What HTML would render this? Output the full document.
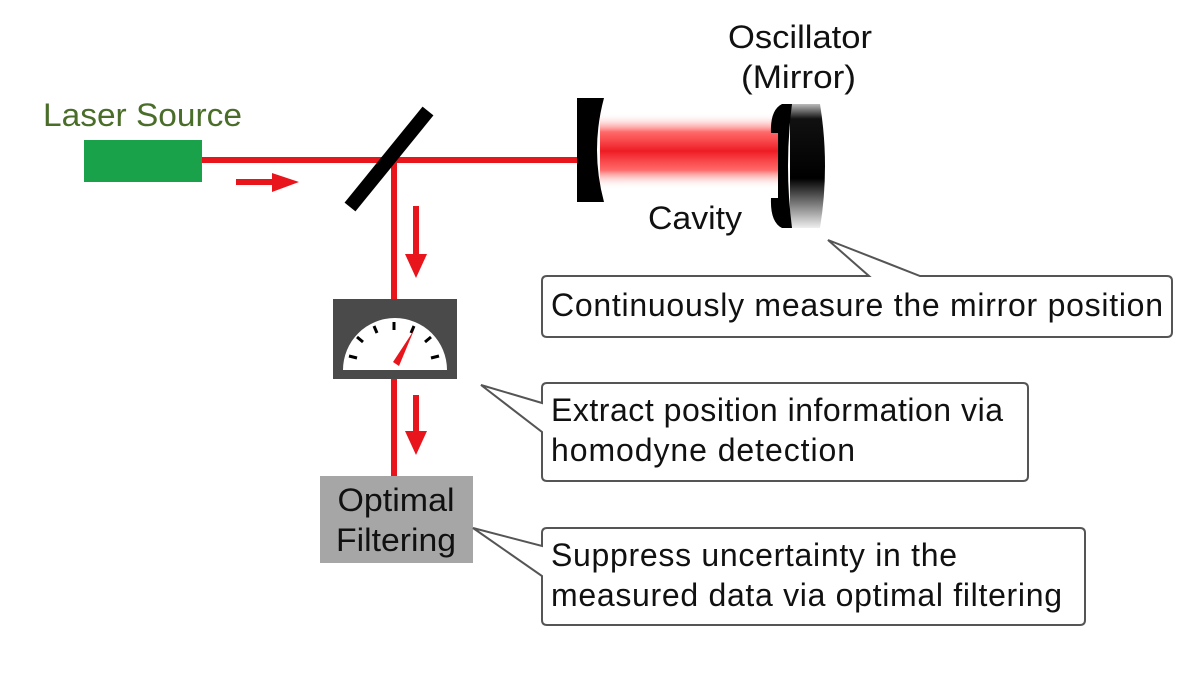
<!DOCTYPE html>
<html><head><style>
html,body{margin:0;padding:0;background:#fff;}
svg{display:block;font-family:"Liberation Sans",Arial,sans-serif;}
</style></head><body>
<svg width="1200" height="675" viewBox="0 0 1200 675" xmlns="http://www.w3.org/2000/svg">
<defs>
<linearGradient id="beam" x1="0" y1="0" x2="0" y2="1">
<stop offset="0" stop-color="#fff" stop-opacity="0"/>
<stop offset="0.25" stop-color="#f44" stop-opacity="0.8"/>
<stop offset="0.5" stop-color="#ee1c24"/>
<stop offset="0.75" stop-color="#f44" stop-opacity="0.8"/>
<stop offset="1" stop-color="#fff" stop-opacity="0"/>
</linearGradient>
<linearGradient id="mir" x1="0" y1="0" x2="0" y2="1">
<stop offset="0" stop-color="#bbb"/>
<stop offset="0.12" stop-color="#111"/>
<stop offset="0.6" stop-color="#000"/>
<stop offset="1" stop-color="#eee"/>
</linearGradient>
</defs>
<text x="43" y="126" font-size="32" fill="#4a6e2a" textLength="199" lengthAdjust="spacingAndGlyphs">Laser Source</text>
<rect x="84" y="140" width="118" height="42" fill="#1aa24a"/>
<rect x="202" y="157" width="376" height="6" fill="#e8161c"/>
<rect x="391" y="160" width="6" height="318" fill="#e8161c"/>
<rect x="236" y="179" width="38" height="6" fill="#e8161c"/>
<polygon points="272,173 299,182 272,192" fill="#e8161c"/>
<rect x="413" y="206" width="6" height="50" fill="#e8161c"/>
<polygon points="405,254 427,254 416,278" fill="#e8161c"/>
<rect x="413" y="395" width="6" height="38" fill="#e8161c"/>
<polygon points="405,431 427,431 416,455" fill="#e8161c"/>
<line x1="350" y1="207" x2="428" y2="111" stroke="#000" stroke-width="14"/>
<rect x="600" y="113" width="180" height="76" fill="url(#beam)"/>
<path d="M577,98 L604,98 Q590,150 604,202 L577,202 Z" fill="#000"/>
<!-- oscillator mirror -->
<path d="M790,104 L820,104 Q830,166 820,228 L790,228 Z" fill="url(#mir)"/>
<path d="M782,104 Q770,110 771,133 L778,133 L778,198 L771,198 Q770,222 782,228 L792,228 Q784,166 792,104 Z" fill="#000"/>
<text x="728" y="48" font-size="32" fill="#111" textLength="144" lengthAdjust="spacingAndGlyphs">Oscillator</text>
<text x="741" y="88" font-size="32" fill="#111" textLength="115" lengthAdjust="spacingAndGlyphs">(Mirror)</text>
<text x="648" y="229" font-size="32" fill="#111" textLength="94" lengthAdjust="spacingAndGlyphs">Cavity</text>
<rect x="333" y="299" width="124" height="80" fill="#4a4a4a"/>
<path d="M343,370 A52,52 0 0 1 447,370 Z" fill="#fff"/>
<g stroke="#000" stroke-width="3">
<line x1="394" y1="322" x2="394" y2="330"/>
<line x1="374" y1="326" x2="377" y2="333"/>
<line x1="414" y1="326" x2="411" y2="333"/>
<line x1="357" y1="337" x2="363" y2="342"/>
<line x1="431" y1="337" x2="425" y2="342"/>
<line x1="349" y1="356" x2="357" y2="358"/>
<line x1="439" y1="356" x2="431" y2="358"/>
</g>
<polygon points="393,362 399,366 414,330" fill="#e8161c"/>
<rect x="320" y="476" width="153" height="87" fill="#a6a6a6"/>
<text x="396" y="511" font-size="32" text-anchor="middle" fill="#111" textLength="117" lengthAdjust="spacingAndGlyphs">Optimal</text>
<text x="396" y="551" font-size="32" text-anchor="middle" fill="#111" textLength="120" lengthAdjust="spacingAndGlyphs">Filtering</text>
<g fill="#fff" stroke="#555" stroke-width="2">
<path d="M547,276 L869,276 L828,240 L920,276 L1167,276 Q1172,276 1172,281 L1172,332 Q1172,337 1167,337 L547,337 Q542,337 542,332 L542,281 Q542,276 547,276 Z"/>
<path d="M547,383 L1023,383 Q1028,383 1028,388 L1028,476 Q1028,481 1023,481 L547,481 Q542,481 542,476 L542,432 L481,385 L542,403 L542,388 Q542,383 547,383 Z"/>
<path d="M547,528 L1080,528 Q1085,528 1085,533 L1085,620 Q1085,625 1080,625 L547,625 Q542,625 542,620 L542,576 L473,528 L542,546 L542,533 Q542,528 547,528 Z"/>
</g>
<g font-size="32" fill="#111" lengthAdjust="spacingAndGlyphs">
<text x="551" y="316" textLength="612">Continuously measure the mirror position</text>
<text x="551" y="421" textLength="452">Extract position information via</text>
<text x="551" y="461" textLength="304">homodyne detection</text>
<text x="551" y="566" textLength="406">Suppress uncertainty in the</text>
<text x="551" y="606" textLength="511">measured data via optimal filtering</text>
</g>
</svg>
</body></html>
